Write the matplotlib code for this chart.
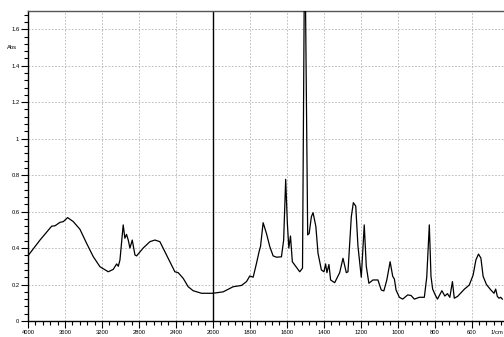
import numpy as np
import matplotlib
matplotlib.use("Agg")
import matplotlib.pyplot as plt
from matplotlib.ticker import FixedLocator, FuncFormatter

plt.rcParams["font.family"] = ["Liberation Sans", "DejaVu Sans"]

# IR spectrum (wavenumber in 1/cm, absorbance)
wavenumber = [
    4000, 3870, 3744, 3708, 3654, 3618, 3571, 3510, 3438, 3366, 3294, 3222,
    3132, 3078, 3041, 3023, 3005, 2970, 2952, 2934, 2916, 2897, 2872, 2843,
    2825, 2754, 2681, 2627, 2573, 2501, 2411, 2375, 2321, 2267, 2213, 2122,
    2000, 1944, 1890, 1845, 1818, 1800, 1782, 1764, 1750, 1742, 1728, 1710,
    1692, 1674, 1656, 1629, 1617, 1606, 1597, 1589, 1580, 1570, 1552, 1530,
    1515, 1503, 1487, 1479, 1467, 1458, 1443, 1431, 1413, 1399, 1390,
    1383, 1372, 1363, 1341, 1314, 1296, 1278, 1269, 1251, 1240, 1227, 1215,
    1197, 1181, 1170, 1156, 1134, 1107, 1089, 1075, 1059, 1041, 1027, 1018,
    1009, 991, 973, 946, 928, 910, 883, 856, 843, 829, 820, 811, 797, 785,
    761, 745, 731, 718, 704, 694, 676, 640, 613, 592, 577, 563, 550, 538,
    520, 496, 479, 470, 461, 452, 443, 434,
]
absorbance = [
    0.358, 0.444, 0.520, 0.522, 0.541, 0.545, 0.567, 0.545, 0.503, 0.426,
    0.353, 0.298, 0.270, 0.283, 0.313, 0.300, 0.335, 0.527, 0.454, 0.475,
    0.445, 0.400, 0.444, 0.362, 0.357, 0.400, 0.435, 0.444, 0.435, 0.362,
    0.270, 0.265, 0.234, 0.188, 0.166, 0.152, 0.152, 0.160, 0.188, 0.195,
    0.216, 0.247, 0.240, 0.316, 0.380, 0.410, 0.539, 0.480, 0.408, 0.357,
    0.350, 0.352, 0.444, 0.777, 0.536, 0.400, 0.466, 0.325, 0.300, 0.270,
    0.290, 2.200, 0.472, 0.480, 0.572, 0.594, 0.520, 0.371, 0.280,
    0.270, 0.313, 0.265, 0.310, 0.225, 0.210, 0.265, 0.344, 0.265, 0.270,
    0.572, 0.649, 0.630, 0.410, 0.240, 0.527, 0.300, 0.207, 0.225, 0.225,
    0.170, 0.165, 0.225, 0.325, 0.245, 0.230, 0.170, 0.130, 0.120, 0.143,
    0.140, 0.120, 0.130, 0.130, 0.240, 0.527, 0.245, 0.175, 0.143, 0.120,
    0.166, 0.137, 0.150, 0.130, 0.216, 0.125, 0.135, 0.174, 0.197, 0.252,
    0.335, 0.367, 0.345, 0.245, 0.200, 0.170, 0.152, 0.175, 0.135, 0.125,
    0.130, 0.120,
]

x_major = [4000, 3600, 3200, 2800, 2400, 2000, 1800, 1600, 1400, 1200, 1000, 800, 600]
y_major = [0, 0.2, 0.4, 0.6, 0.8, 1.0, 1.2, 1.4, 1.6]
split = 2000


def forward(x):
    x = np.asarray(x, dtype=float)
    return np.where(x > split, split + (x - split) / 2, x)


def inverse(t):
    t = np.asarray(t, dtype=float)
    return np.where(t > split, split + 2 * (t - split), t)


fig = plt.figure(figsize=(5.04, 3.37), dpi=100)
ax = fig.add_axes([28 / 504, 1 - 321 / 337, 1 - 28 / 504, (321 - 11) / 337])
ax.set_xscale("function", functions=(forward, inverse))
ax.set_xlim(4000, 425)
ax.set_ylim(0, 1.7)

ax.plot(wavenumber, absorbance, color="black", lw=0.9, zorder=3)

# grid and split marker
for xv in x_major:
    if xv == split or xv == 4000:
        continue
    ax.axvline(xv, color="#b4b4b4", lw=0.6, ls=(0, (2, 2)), zorder=1)
for yv in y_major[1:]:
    ax.axhline(yv, color="#b4b4b4", lw=0.6, ls=(0, (2, 2)), zorder=1)
ax.axvline(split, color="black", lw=1.0, zorder=2)

x_minor = list(range(4000, 2000, -80)) + list(range(2000, 420, -40))
y_minor = list(np.arange(0, 1.7, 0.04))
ax.xaxis.set_major_locator(FixedLocator(x_major))
ax.xaxis.set_minor_locator(FixedLocator(x_minor))
ax.yaxis.set_major_locator(FixedLocator(y_major))
ax.yaxis.set_minor_locator(FixedLocator(y_minor))
ax.xaxis.set_major_formatter(FuncFormatter(lambda v, p: f"{v:g}"))
ax.yaxis.set_major_formatter(FuncFormatter(lambda v, p: f"{v:g}"))

ax.tick_params(which="major", direction="out", length=5, width=0.8, labelsize=4.2, pad=1.2)
ax.tick_params(which="minor", direction="out", length=3, width=0.8)

for side in ["left", "bottom", "top"]:
    ax.spines[side].set_linewidth(1.0)
ax.spines["top"].set_color("#555555")
ax.spines["right"].set_visible(False)

ax.text(-0.034, 1.5, "Abs", transform=ax.get_yaxis_transform(), ha="center",
        va="center", fontsize=4.2)
fig.text(503 / 504, 1 - 333 / 337, "1/cm", fontsize=4.2, ha="right", va="center")

fig.savefig("out.png", dpi=100)
